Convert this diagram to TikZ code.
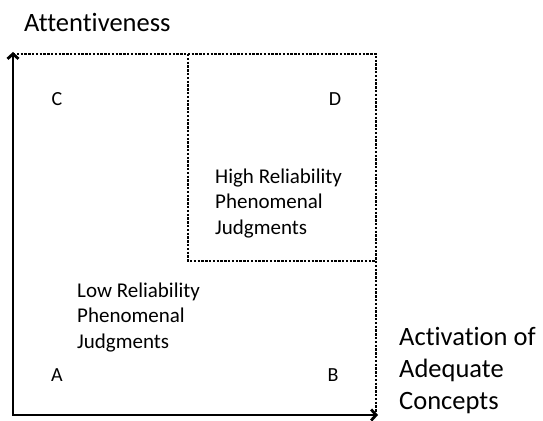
\documentclass[tikz,border=0pt]{standalone}
\usepackage{fontspec}
\setmainfont[Ligatures={NoCommon}]{Carlito}
\usetikzlibrary{arrows.meta}
\begin{document}
\begin{tikzpicture}[x=1pt,y=-1pt,
  axis/.style={line width=2.8pt, {Straight Barb[length=5pt,width=11pt,line width=2.8pt]}-{Straight Barb[length=5pt,width=11pt,line width=2.8pt]}},
  dots/.style={line width=2.8pt, dash pattern=on 2.4pt off 1.4pt},
  big/.style={font=\fontsize{26.5}{32}\selectfont, inner sep=0pt, align=left, anchor=base west},
  mid/.style={font=\fontsize{21}{25.5}\selectfont, inner sep=0pt, align=left, anchor=base west},
  letter/.style={font=\fontsize{20}{24}\selectfont, inner sep=0pt}]
\useasboundingbox (0,0) rectangle (543,420);
\coordinate (O) at (13,415);
\coordinate (Ytip) at (13,52);
\coordinate (Xtip) at (378,415);
\coordinate (TL) at (13,54);
\coordinate (TR) at (376,54);
\coordinate (BR) at (376,413);
\coordinate (IT) at (188,54);
\coordinate (IB) at (188,261);
\coordinate (IR) at (376,261);
\draw[dots] (TL) -- (TR) -- (BR);
\draw[dots] (IT) -- (IB) -- (IR);
\draw[axis] (Ytip) -- (O) -- (Xtip);
\node[big] (att) at (24,32) {Attentiveness};
\node[big] (act) at (399,409) {Activation of\\Adequate\\Concepts};
\node[mid] (high) at (215,234) {High Reliability\\Phenomenal\\Judgments};
\node[mid] (low) at (77,348) {Low Reliability\\Phenomenal\\Judgments};
\node[letter] (c) at (57,99) {C};
\node[letter] (d) at (335,99) {D};
\node[letter] (a) at (57,375) {A};
\node[letter] (b) at (333,375) {B};
\end{tikzpicture}
\end{document}
